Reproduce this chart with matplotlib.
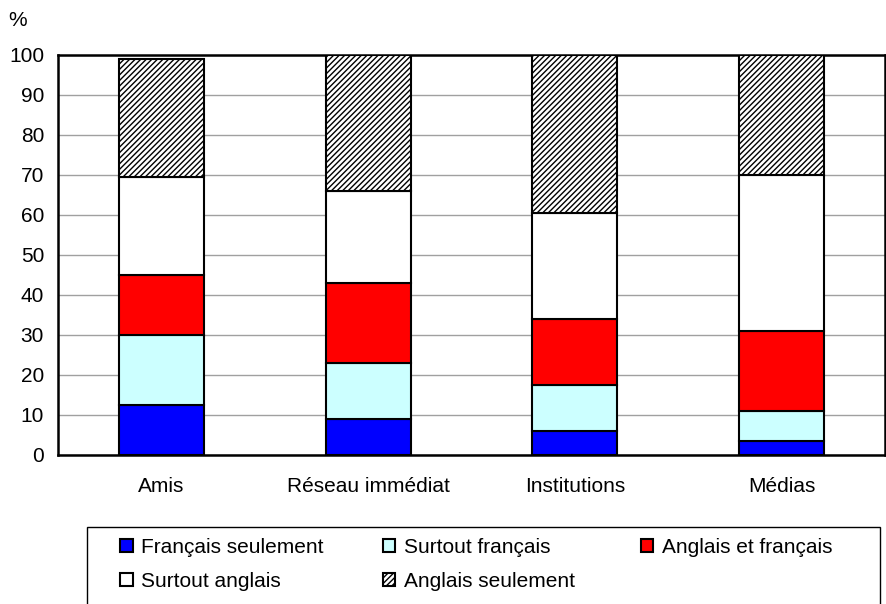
import matplotlib.pyplot as plt
import matplotlib.patches as mpatches
import numpy as np

plt.rcParams['font.family'] = ['Liberation Sans', 'DejaVu Sans']
plt.rcParams['hatch.linewidth'] = 1.0

# Data (%)
categories = ['Amis', 'Réseau immédiat', 'Institutions', 'Médias']
francais_seul = [12.5, 9, 6, 3.5]
surtout_francais = [17.5, 14, 11.5, 7.5]
anglais_et_francais = [15, 20, 16.5, 20]
surtout_anglais = [24.5, 23, 26.5, 39]
anglais_seul = [29.5, 34, 39.5, 30]

series = [
    ('Français seulement', francais_seul, '#0000ff', None),
    ('Surtout français', surtout_francais, '#ccffff', None),
    ('Anglais et français', anglais_et_francais, '#ff0000', None),
    ('Surtout anglais', surtout_anglais, '#ffffff', None),
    ('Anglais seulement', anglais_seul, '#ffffff', '//////'),
]

fig = plt.figure(figsize=(8.87, 6.04), dpi=100)
ax = fig.add_axes([58 / 887, 1 - 455 / 604, 827 / 887, 400 / 604])

x = np.arange(len(categories))
bottom = np.zeros(len(categories))
handles = {}
for name, vals, color, hatch in series:
    bars = ax.bar(x, vals, 0.41, bottom=bottom, color=color, edgecolor='black',
                  linewidth=1.5, hatch=hatch, label=name, zorder=3)
    handles[name] = bars
    bottom += np.array(vals)

ax.set_xlim(-0.5, 3.5)
ax.set_ylim(0, 100)
ax.set_yticks(range(0, 101, 10))
ax.set_xticks(x)
ax.set_xticklabels(categories)
ax.tick_params(axis='both', length=0, labelsize=15)
ax.tick_params(axis='y', pad=10)
ax.tick_params(axis='x', pad=16)
ax.yaxis.grid(True, color='#a0a0a0', linewidth=1, zorder=0)
for s in ax.spines.values():
    s.set_linewidth(1.8)
    s.set_color('black')

fig.text(18 / 887, 1 - 20 / 604, '%', fontsize=15, ha='center', va='center')

# legend box (runs off bottom edge)
fig.patches.append(mpatches.Rectangle((87 / 887, -0.05), (880 - 87) / 887, 0.05 + (604 - 527) / 604,
                                      transform=fig.transFigure, facecolor='white',
                                      edgecolor='black', linewidth=1, zorder=0))

cols = [
    (['Français seulement', 'Surtout anglais'], 120),
    (['Surtout français', 'Anglais seulement'], 383),
    (['Anglais et français'], 641),
]
for names, xpos in cols:
    fig.legend([handles[n] for n in names], names, loc='upper left',
               bbox_to_anchor=(xpos / 887, 1 - 538 / 604), frameon=False,
               fontsize=15, handlelength=0.6, handleheight=0.6, handletextpad=0.4,
               labelspacing=0.7, borderpad=0, borderaxespad=0)

fig.savefig('out.png', dpi=100)
